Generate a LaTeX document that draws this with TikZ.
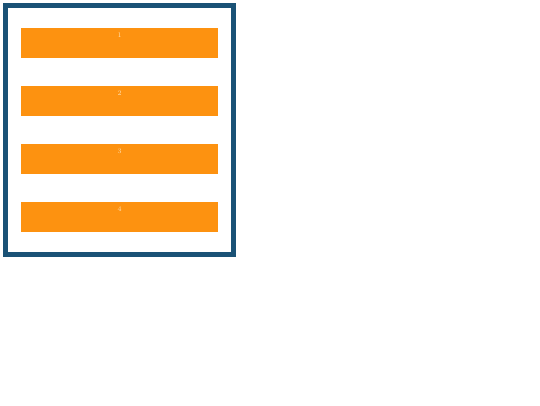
\documentclass[tikz,border=0pt]{standalone}
\usepackage{tikz}

\definecolor{framecol}{RGB}{26,82,118}
\definecolor{barcol}{RGB}{253,146,16}
\definecolor{numcol}{RGB}{255,226,180}

\begin{document}
\begin{tikzpicture}[x=1pt,y=-1pt,
    bar/.style={fill=barcol, minimum width=197pt, minimum height=29.5pt, inner sep=0pt},
    num/.style={anchor=center, yshift=-7pt, inner sep=0pt, text=numcol, font=\fontsize{7}{8}\selectfont}]
    \useasboundingbox (0,0) rectangle (540,405);

    \node[draw=framecol, line width=5pt, minimum width=228pt, minimum height=248.5pt, inner sep=0pt] (frame) at (119.5,129.75) {};

    \node[bar, label={[num]north:1}] (bar1) at (119.5,42.75) {};
    \node[bar, label={[num]north:2}] (bar2) at (119.5,100.75) {};
    \node[bar, label={[num]north:3}] (bar3) at (119.5,158.75) {};
    \node[bar, label={[num]north:4}] (bar4) at (119.5,216.75) {};
\end{tikzpicture}
\end{document}
